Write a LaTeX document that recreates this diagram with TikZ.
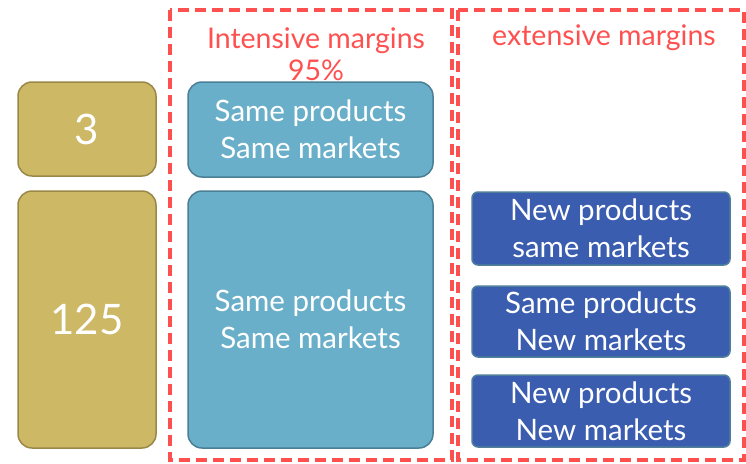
\documentclass[tikz,border=0pt]{standalone}
\usepackage{fontspec}
\setmainfont{Lato}
\definecolor{goldfill}{HTML}{CDB866}
\definecolor{golddraw}{HTML}{9A8848}
\definecolor{lbfill}{HTML}{6AAFC9}
\definecolor{lbdraw}{HTML}{4A7F96}
\definecolor{dbfill}{HTML}{3A5DB0}
\definecolor{dbdraw}{HTML}{4F7F9A}
\definecolor{redd}{HTML}{FF5050}
\begin{document}
\begin{tikzpicture}[x=1pt,y=-1pt,
  goldbox/.style={draw=golddraw,fill=goldfill,line width=1.5pt,rounded corners=14pt},
  lbbox/.style={draw=lbdraw,fill=lbfill,line width=1.5pt,rounded corners=14pt},
  dbbox/.style={draw=dbdraw,fill=dbfill,line width=1.5pt,rounded corners=6pt},
  redbox/.style={draw=redd,line width=3.5pt,dash pattern=on 11pt off 6pt},
  txt/.style={text=white,font=\fontsize{29.5}{37}\selectfont,align=center},
  bigtxt/.style={text=white,font=\fontsize{42}{44}\selectfont},
  redtxt/.style={text=redd,font=\fontsize{28.5}{32}\selectfont,align=center}]
\useasboundingbox (0,0) rectangle (746,463);
\draw[redbox] (170,10) rectangle (452,460);
\draw[redbox] (458,10) rectangle (744,460);
\draw[goldbox] (18,82) rectangle (156,176) node[midway,bigtxt] (n3) {3};
\draw[goldbox] (18,191) rectangle (156,448) node[midway,bigtxt] (n125) {125};
\draw[lbbox] (188,82) rectangle (433,177) node[midway,txt] (s1) {Same products\\Same markets};
\draw[lbbox] (188,191) rectangle (433,448) node[midway,txt] (s2) {Same products\\Same markets};
\draw[dbbox] (472,192) rectangle (730,265) node[midway,txt] (e1) {New products\\same markets};
\draw[dbbox] (472,286) rectangle (730,357) node[midway,txt] (e2) {Same products\\New markets};
\draw[dbbox] (472,375) rectangle (730,447) node[midway,txt] (e3) {New products\\New markets};
\node[redtxt] (ti) at (316,54) {Intensive margins\\95\%};
\node[redtxt] (te) at (604,38) {extensive margins};
\end{tikzpicture}
\end{document}
